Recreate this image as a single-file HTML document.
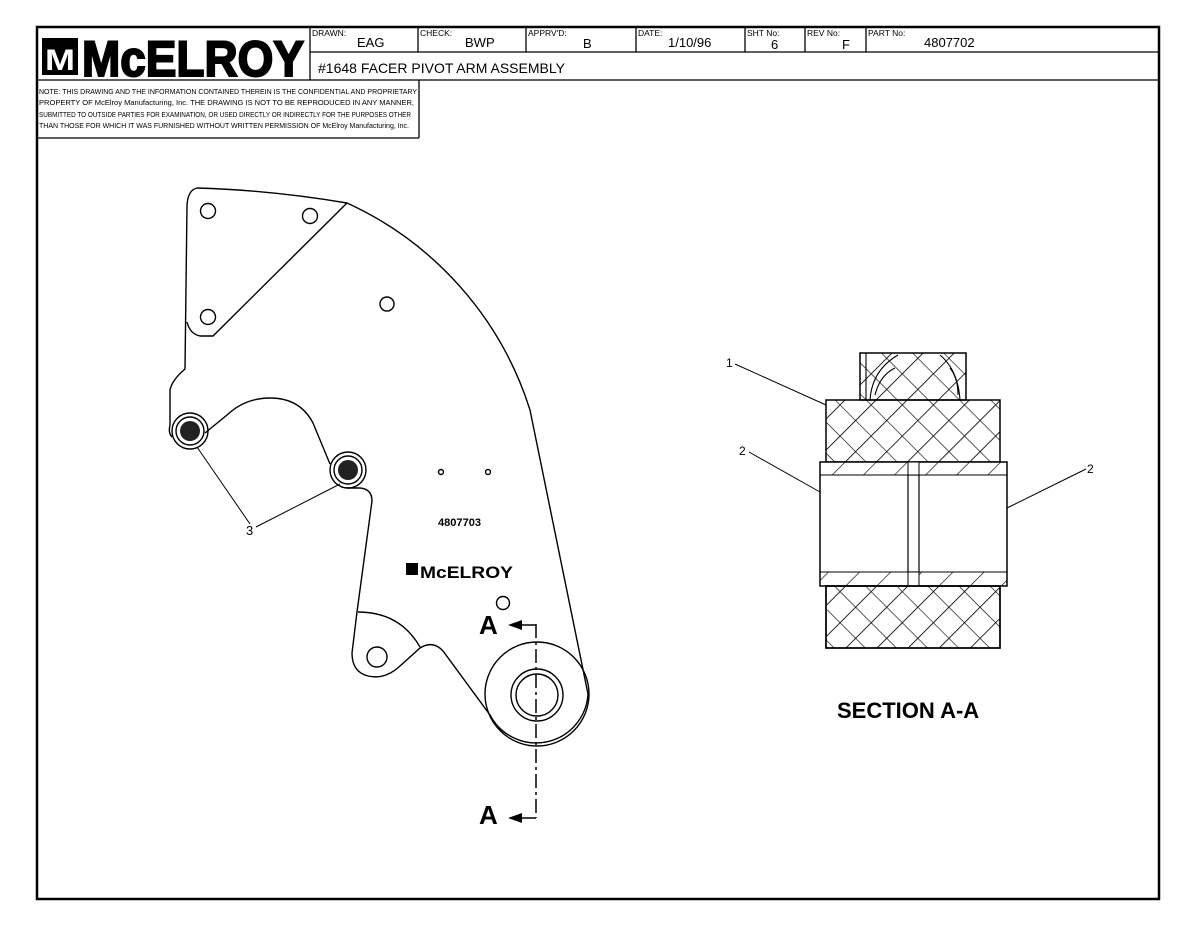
<!DOCTYPE html>
<html><head><meta charset="utf-8"><style>
html,body{margin:0;padding:0;background:#fff}
svg{display:block}
text{font-family:"Liberation Sans",sans-serif;fill:#000}
</style></head><body>
<svg width="1200" height="927" viewBox="0 0 1200 927" xmlns="http://www.w3.org/2000/svg">
<defs>
<pattern id="h" width="22" height="22" patternUnits="userSpaceOnUse" patternTransform="rotate(45)">
<line x1="0" y1="0" x2="22" y2="0" stroke="#000" stroke-width="1.2"/>
<line x1="0" y1="0" x2="0" y2="22" stroke="#000" stroke-width="1.2"/>
</pattern>
<pattern id="h1" width="22" height="22" patternUnits="userSpaceOnUse" patternTransform="rotate(-45)">
<line x1="0" y1="0" x2="22" y2="0" stroke="#000" stroke-width="1.2"/>
</pattern>
</defs>
<rect x="0" y="0" width="1200" height="927" fill="#fff"/>
<rect x="37" y="27" width="1122" height="872" fill="none" stroke="#000" stroke-width="2.5"/>
<g stroke="#000" stroke-width="1.3" fill="none">
<line x1="310" y1="27" x2="310" y2="80"/>
<line x1="310" y1="52" x2="1159" y2="52"/>
<line x1="37" y1="80" x2="1159" y2="80"/>
<line x1="418" y1="27" x2="418" y2="52"/>
<line x1="526" y1="27" x2="526" y2="52"/>
<line x1="636" y1="27" x2="636" y2="52"/>
<line x1="745" y1="27" x2="745" y2="52"/>
<line x1="805" y1="27" x2="805" y2="52"/>
<line x1="866" y1="27" x2="866" y2="52"/>
<line x1="419" y1="80" x2="419" y2="138"/>
<line x1="37" y1="138" x2="419" y2="138"/>
</g>
<rect x="42" y="38" width="36" height="37" fill="#000"/>
<text x="45" y="70" font-size="30" font-weight="bold" style="fill:#fff" textLength="30" lengthAdjust="spacingAndGlyphs">M</text>
<text x="82" y="76" font-size="50" font-weight="bold" textLength="222" lengthAdjust="spacingAndGlyphs" stroke="#000" stroke-width="2">McELROY</text>
<g font-size="8.5">
<text x="312" y="36">DRAWN:</text><text x="420" y="36">CHECK:</text><text x="528" y="36">APPRV'D:</text>
<text x="638" y="36">DATE:</text><text x="747" y="36">SHT No:</text><text x="807" y="36">REV No:</text><text x="868" y="36">PART No:</text>
</g>
<g font-size="13">
<text x="357" y="47">EAG</text><text x="465" y="47">BWP</text><text x="583" y="48">B</text>
<text x="668" y="47">1/10/96</text><text x="771" y="49">6</text><text x="842" y="49">F</text><text x="924" y="47">4807702</text>
<text x="318" y="73" font-size="14">#1648 FACER PIVOT ARM ASSEMBLY</text>
</g>
<g font-size="7.2">
<text x="39" y="94" textLength="378" lengthAdjust="spacingAndGlyphs">NOTE: THIS DRAWING AND THE INFORMATION CONTAINED THEREIN IS THE CONFIDENTIAL AND PROPRIETARY</text>
<text x="39" y="105" textLength="375" lengthAdjust="spacingAndGlyphs">PROPERTY OF McElroy Manufacturing, Inc. THE DRAWING IS NOT TO BE REPRODUCED IN ANY MANNER,</text>
<text x="39" y="117" textLength="372" lengthAdjust="spacingAndGlyphs">SUBMITTED TO OUTSIDE PARTIES FOR EXAMINATION, OR USED DIRECTLY OR INDIRECTLY FOR THE PURPOSES OTHER</text>
<text x="39" y="128" textLength="370" lengthAdjust="spacingAndGlyphs">THAN THOSE FOR WHICH IT WAS FURNISHED WITHOUT WRITTEN PERMISSION OF McElroy Manufacturing, Inc.</text>
</g>
<g stroke="#000" stroke-width="1.4" fill="none">
<path d="M197,188 Q270,190 347,203 A340,340 0 0 1 530,410 L588,694 A52,52 0 0 1 490,715 L443,651 Q433,640 420,648 L400,666 Q385,680 368,676 Q352,672 352,653 L357,612 L372,501 Q372,489 360,488 L347,488 M330,464 L313,423 Q300,398 270,398 Q245,398 227,415 L205,433 M172,437 Q168,433 170,425 L170,390 Q172,380 185,369 L187,205 Q188,190 197,188"/>
<path d="M347,203 L213,336 L200,336 Q190,334 187,322"/>
<path d="M358,612 Q400,612 420,647"/>
<circle cx="208" cy="211" r="7.5"/><circle cx="310" cy="216" r="7.5"/><circle cx="208" cy="317" r="7.5"/><circle cx="387" cy="304" r="7"/>
<circle cx="441" cy="472" r="2.5"/><circle cx="488" cy="472" r="2.5"/><circle cx="503" cy="603" r="6.5"/>
<circle cx="377" cy="657" r="10"/>
<circle cx="537" cy="694" r="52"/><circle cx="537" cy="695" r="26"/><circle cx="537" cy="695" r="21"/>
<circle cx="190" cy="431" r="18"/><circle cx="190" cy="431" r="14"/>
<circle cx="348" cy="470" r="18"/><circle cx="348" cy="470" r="14"/>
</g>
<circle cx="190" cy="431" r="10" fill="#222"/><circle cx="348" cy="470" r="10" fill="#222"/>
<g stroke="#000" stroke-width="1"><line x1="250" y1="524" x2="197" y2="447"/><line x1="256" y1="527" x2="340" y2="484"/></g>
<text x="246" y="535" font-size="13">3</text>
<text x="438" y="526" font-size="11" font-weight="bold" textLength="43" lengthAdjust="spacingAndGlyphs">4807703</text>
<rect x="406" y="563" width="12" height="12" fill="#000"/>
<text x="420" y="578" font-size="17" font-weight="bold" textLength="93" lengthAdjust="spacingAndGlyphs">McELROY</text>
<line x1="536" y1="624" x2="536" y2="818" stroke="#000" stroke-width="1.5" stroke-dasharray="14,4,3,4"/>
<line x1="518" y1="625" x2="536" y2="625" stroke="#000" stroke-width="1.5"/>
<line x1="518" y1="818" x2="536" y2="818" stroke="#000" stroke-width="1.5"/>
<polygon points="508,625 522,620 522,630" fill="#000"/>
<polygon points="508,818 522,813 522,823" fill="#000"/>
<text x="479" y="634" font-size="26" font-weight="bold">A</text>
<text x="479" y="824" font-size="26" font-weight="bold">A</text>
<g stroke="#000" stroke-width="1.5">
<rect x="860" y="353" width="106" height="47" fill="url(#h)"/>
<rect x="860" y="353" width="106" height="47" fill="url(#h1)" stroke="none"/>
<path d="M866,353 L866,400 M870,400 Q872,370 898,355 M940,355 Q958,370 960,400 M875,395 Q880,375 895,368 M950,368 Q958,378 958,395" fill="none" stroke-width="1.1"/>
<rect x="826" y="400" width="174" height="62" fill="url(#h)"/>
<rect x="826" y="400" width="174" height="62" fill="url(#h1)" stroke="none"/>
<rect x="820" y="462" width="187" height="124" fill="#fff"/>
<rect x="820" y="462" width="187" height="13" fill="url(#h1)" stroke-width="1"/>
<rect x="820" y="572" width="187" height="14" fill="url(#h1)" stroke-width="1"/>
<rect x="908" y="475" width="11" height="97" fill="#fff" stroke-width="1.2"/>
<rect x="908" y="462" width="11" height="13" fill="#fff" stroke-width="1"/>
<rect x="908" y="572" width="11" height="14" fill="#fff" stroke-width="1"/>
<rect x="826" y="586" width="174" height="62" fill="url(#h)"/>
<rect x="826" y="586" width="174" height="62" fill="url(#h1)" stroke="none"/>
<rect x="826" y="586" width="174" height="62" fill="none"/>
</g>
<g stroke="#000" stroke-width="1"><line x1="735" y1="364" x2="826" y2="405"/><line x1="749" y1="452" x2="820" y2="492"/><line x1="1086" y1="469" x2="1007" y2="508"/></g>
<g font-size="12"><text x="726" y="367">1</text><text x="739" y="455">2</text><text x="1087" y="473">2</text></g>
<text x="837" y="718" font-size="22" font-weight="bold">SECTION A-A</text>
</svg>
</body></html>
